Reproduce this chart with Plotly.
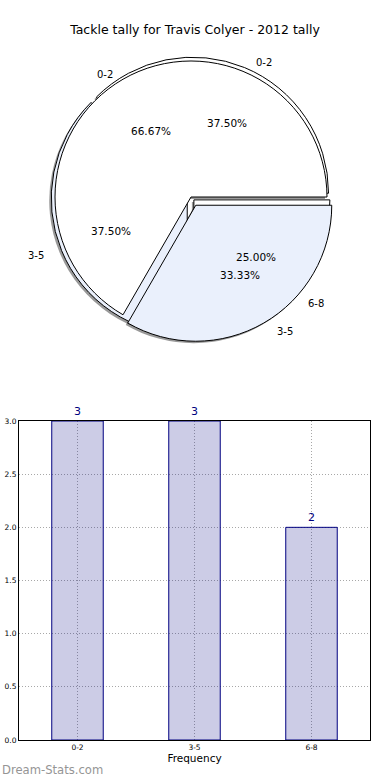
import math
import plotly.graph_objects as go

# ---------------- data ----------------
title_text = "Tackle tally for Travis Colyer - 2012 tally"

pie_a_labels = ["0-2", "3-5"]
pie_a_values = [2, 1]            # 66.67 %, 33.33 %
pie_a_pull = [0.0, 0.07]

pie_b_labels = ["0-2", "3-5", "6-8"]
pie_b_values = [3, 3, 2]         # 37.50 %, 37.50 %, 25.00 %
pie_b_pull = [0.03, 0.03, 0.03]

bar_categories = ["0-2", "3-5", "6-8"]
bar_values = [3, 3, 2]
y_tick_values = [0.0, 0.5, 1.0, 1.5, 2.0, 2.5, 3.0]

watermark = "Dream-Stats.com"
x_title = "Frequency"

# ---------------- layout constants ----------------
W, H = 390, 780
CX, CY, R = 191, 197, 136          # pie centre / radius in px
TCX, TCY = 193, 199                # text centre
RX_T, RY_T = 141, 131              # text ellipse (matplotlib non-equal aspect)
WHITE = "#ffffff"
LIGHT = "#eaf0fc"
FONT = "DejaVu Sans"


def pie_domain(cx, cy, r, maxpull):
    half = r * (1 + maxpull)
    return dict(x=[(cx - half) / W, (cx + half) / W],
                y=[1 - (cy + half) / H, 1 - (cy - half) / H])


def pie_trace(values, labels, pulls, colors, dx=0, dy=0, shadow=False):
    dom = pie_domain(CX + dx, CY + dy, R, max(pulls))
    # matplotlib: first wedge starts at 3 o'clock and runs counter-clockwise
    first_deg = 360.0 * values[0] / sum(values)
    return go.Pie(
        values=values, labels=labels, sort=False,
        direction="counterclockwise", rotation=90 - first_deg,
        pull=pulls, domain=dom,
        marker=dict(colors=colors,
                    line=dict(color="rgba(0,0,0,0)" if shadow else "black",
                              width=0 if shadow else 1)),
        textinfo="none", hoverinfo="skip", showlegend=False,
    )


fig = go.Figure()

# shadows
fig.add_trace(pie_trace(pie_b_values, pie_b_labels, pie_b_pull,
                        ["rgba(0,0,0,0.4)"] * 3, dx=-2, dy=2, shadow=True))
fig.add_trace(pie_trace(pie_a_values, pie_a_labels, pie_a_pull,
                        ["rgba(0,0,0,0.4)"] * 2, dx=-2, dy=2, shadow=True))
# pies
fig.add_trace(pie_trace(pie_b_values, pie_b_labels, pie_b_pull,
                        [WHITE, LIGHT, WHITE]))
fig.add_trace(pie_trace(pie_a_values, pie_a_labels, pie_a_pull,
                        [WHITE, LIGHT]))

# pie texts (matplotlib style: pct at 0.6 r, label at 1.1 r)
annotations = []


def add_pie_texts(values, labels, pulls):
    total = float(sum(values))
    cum = 0.0
    for v, lab, p in zip(values, labels, pulls):
        frac = v / total
        theta = 2 * math.pi * (cum + frac / 2)
        cum += frac
        c, s = math.cos(theta), math.sin(theta)
        ox, oy = p * RX_T * c, -p * RY_T * s
        # percentage
        px, py = TCX + ox + 0.6 * RX_T * c, TCY + oy - 0.6 * RY_T * s
        annotations.append(dict(
            x=px / W, y=1 - py / H, xref="paper", yref="paper",
            text=f"{100 * frac:.2f}%", showarrow=False,
            xanchor="center", yanchor="middle",
            font=dict(family=FONT, size=10.5, color="black")))
        # label
        lx, ly = TCX + ox + 1.1 * RX_T * c, TCY + oy - 1.1 * RY_T * s
        annotations.append(dict(
            x=lx / W, y=1 - ly / H, xref="paper", yref="paper",
            text=lab, showarrow=False,
            xanchor="left" if c > 0 else "right", yanchor="middle",
            font=dict(family=FONT, size=10, color="black")))


add_pie_texts(pie_b_values, pie_b_labels, pie_b_pull)
add_pie_texts(pie_a_values, pie_a_labels, pie_a_pull)

# bar chart
fig.add_trace(go.Bar(
    x=bar_categories, y=bar_values, width=0.44,
    marker=dict(color="rgba(0,0,128,0.2)", line=dict(color="#000080", width=1)),
    text=[str(v) for v in bar_values], textposition="outside",
    textfont=dict(family=FONT, size=11, color="#000080"),
    cliponaxis=False, hoverinfo="skip", showlegend=False,
    xaxis="x", yaxis="y",
))

annotations.append(dict(
    x=0, y=1 - 770 / H, xref="paper", yref="paper", xanchor="left", yanchor="middle",
    text=watermark, showarrow=False,
    font=dict(family=FONT, size=11.6, color="#959595")))

fig.update_layout(
    width=W, height=H, template="none",
    paper_bgcolor="white", plot_bgcolor="white",
    margin=dict(l=0, r=0, t=0, b=0),
    title=dict(text=title_text, x=0.5, xanchor="center", y=1 - 30 / H,
               yanchor="middle", font=dict(family=FONT, size=12.5, color="black")),
    annotations=annotations,
    bargap=0,
    xaxis=dict(
        domain=[19 / W, 370 / W], anchor="y",
        range=[-0.5, 2.5], showgrid=True, gridcolor="#a8a8a8",
        griddash="1px,2px", gridwidth=1,
        showline=True, linecolor="black", linewidth=1, mirror=True,
        ticks="", tickfont=dict(family=FONT, size=7.5, color="black"),
        title=dict(text=x_title, standoff=2,
                   font=dict(family=FONT, size=10.5, color="black")),
        automargin=False, zeroline=False,
    ),
    yaxis=dict(
        domain=[1 - 740 / H, 1 - 421 / H], anchor="x",
        range=[0, 3], tickvals=y_tick_values, tickformat=".1f",
        showgrid=True, gridcolor="#a8a8a8", griddash="1px,2px", gridwidth=1,
        showline=True, linecolor="black", linewidth=1, mirror=True,
        ticks="", tickfont=dict(family=FONT, size=7.5, color="black"),
        automargin=False, zeroline=False,
    ),
    font=dict(family=FONT),
)

fig.write_html("out.html",
               config={"displayModeBar": False, "staticPlot": True},
               post_script="document.body.style.margin='0';document.body.style.padding='0';")
